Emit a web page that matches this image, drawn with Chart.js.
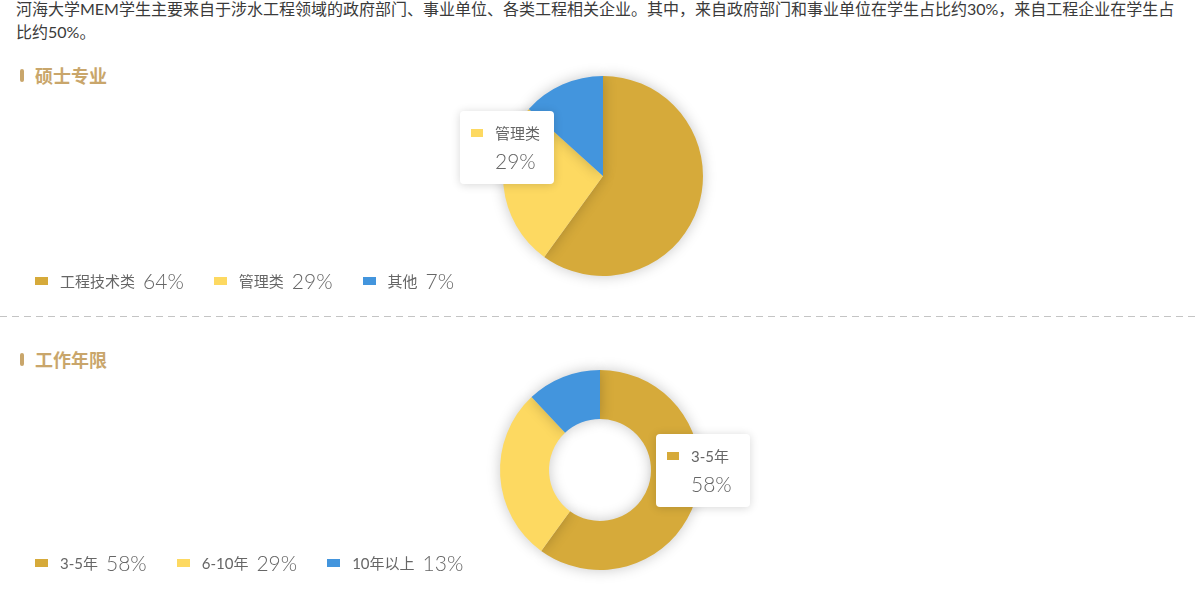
<!DOCTYPE html>
<html>
<head>
<meta charset="utf-8">
<script src="https://cdn.jsdelivr.net/npm/chart.js@4.4.1/dist/chart.umd.min.js"></script>
<style>
    body { margin: 0; width: 1200px; height: 601px; overflow: hidden; background: #fff; position: relative;
           font-family: Lato, "Noto Sans CJK SC", sans-serif; }
    .intro { position: absolute; left: 16px; top: -3px; font-size: 16px; line-height: 23px; color: #3a3a3a; white-space: nowrap; }
    .title { position: absolute; left: 20px; font-size: 18px; font-weight: bold; color: #C9A66B; display: flex; align-items: center; }
    .title i { display: inline-block; width: 4px; height: 13px; border-radius: 2px; background: #C9A66B; margin-right: 11px; }
    .legend { position: absolute; left: 35px; display: flex; align-items: center; color: #666; z-index: 2; }
    .legend .item { display: flex; align-items: center; margin-right: 30px; }
    .legend .sw { width: 13px; height: 8px; margin-right: 12px; }
    .legend .lb { font-size: 15px; margin-right: 8px; }
    .legend .pc { font-size: 21px; font-weight: 300; }
    .sep { position: absolute; left: 0; top: 316px; width: 1200px; height: 1px;
           background-image: linear-gradient(to right, #c4c4c4 0 7px, transparent 7px); background-size: 12px 1px; }
    .box { position: absolute; width: 300px; height: 260px; }
    .tip { position: absolute; z-index: 3; width: 94px; height: 73px; background: #fff; border-radius: 4px;
           box-shadow: 0 1px 10px rgba(0,0,0,0.16); color: #666; box-sizing: border-box; padding: 11px 0 0 11px; }
    .tip .row { display: flex; align-items: center; font-size: 15px; }
    .tip .sw { width: 12px; height: 8px; margin-right: 12px; }
    .tip .val { font-size: 21px; font-weight: 300; margin: 5px 0 0 24px; }
</style>
</head>
<body>
<div class="intro">河海大学MEM学生主要来自于涉水工程领域的政府部门、事业单位、各类工程相关企业。其中，来自政府部门和事业单位在学生占比约30%，来自工程企业在学生占<br>比约50%。</div>

<div class="title" style="top:62px"><i></i>硕士专业</div>
<div class="box" style="left:453px;top:46px"><canvas id="majorChart"></canvas></div>
<div class="legend" id="majorLegend" style="top:268px"></div>
<div class="tip" id="majorTip" style="left:460px;top:111px"></div>

<div class="sep"></div>

<div class="title" style="top:346px"><i></i>工作年限</div>
<div class="box" style="left:450px;top:340px"><canvas id="yearChart"></canvas></div>
<div class="legend" id="yearLegend" style="top:550px"></div>
<div class="tip" id="yearTip" style="left:656px;top:434px"></div>

<script>
const colors = ['#D6AA3A', '#FDD961', '#4395DD'];

// 硕士专业
const majorLabels = ['工程技术类', '管理类', '其他'];
const majorShares = ['64%', '29%', '7%'];
const majorValues = [60, 26.7, 13.3];

// 工作年限
const yearLabels = ['3-5年', '6-10年', '10年以上'];
const yearShares = ['58%', '29%', '13%'];
const yearValues = [60, 28, 12];

const shadowPlugin = {
    id: 'shadow',
    beforeDatasetDraw(chart) {
        const c = chart.ctx;
        c.save();
        c.shadowColor = 'rgba(0,0,0,0.22)';
        c.shadowBlur = 14;
    },
    afterDatasetDraw(chart) {
        chart.ctx.restore();
    }
};

function makeChart(id, type, labels, values, cutout) {
    return new Chart(document.getElementById(id), {
        type: type,
        data: {
            labels: labels,
            datasets: [{ data: values, backgroundColor: colors, borderWidth: 0, clip: false }]
        },
        options: {
            responsive: true, maintainAspectRatio: false, animation: false,
            cutout: cutout,
            layout: { padding: 30 },
            plugins: { legend: { display: false }, tooltip: { enabled: false } }
        },
        plugins: [shadowPlugin]
    });
}

function renderLegend(id, labels, shares) {
    document.getElementById(id).innerHTML = labels.map((l, i) => `
        <div class="item"><span class="sw" style="background:${colors[i]}"></span><span class="lb">${l}</span><span class="pc">${shares[i]}</span></div>
    `).join('');
}

function renderTip(id, labels, shares, i) {
    document.getElementById(id).innerHTML = `
        <div class="row"><span class="sw" style="background:${colors[i]}"></span>${labels[i]}</div>
        <div class="val">${shares[i]}</div>`;
}

makeChart('majorChart', 'pie', majorLabels, majorValues, 0);
makeChart('yearChart', 'doughnut', yearLabels, yearValues, '51%');
renderLegend('majorLegend', majorLabels, majorShares);
renderLegend('yearLegend', yearLabels, yearShares);
renderTip('majorTip', majorLabels, majorShares, 1);
renderTip('yearTip', yearLabels, yearShares, 0);
</script>
</body>
</html>
